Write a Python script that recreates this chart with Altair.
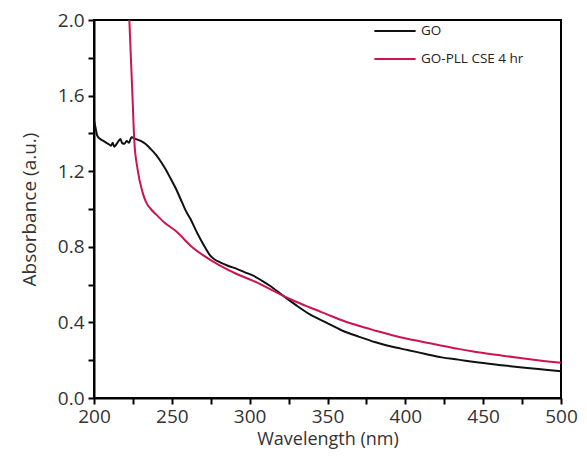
import altair as alt
import pandas as pd

go_x = [200, 201, 202, 204, 206, 208, 210, 211, 212, 213, 215, 217, 218, 219.5, 221, 222.5, 224,
        227, 230, 233, 236.5, 240, 243, 246, 249.3, 252.5, 255.6, 259, 262, 265, 268.4, 271.5,
        274.7, 278, 281, 286, 291.7, 297, 302.3, 308, 313, 321.5, 330, 338.4, 349, 359.7, 370,
        380.9, 391, 402, 413, 423.4, 434, 444.6, 460, 475, 490, 500]
go_y = [1.47, 1.43, 1.39, 1.37, 1.36, 1.35, 1.34, 1.335, 1.35, 1.33, 1.35, 1.37, 1.35, 1.345,
        1.36, 1.35, 1.38, 1.37, 1.36, 1.345, 1.317, 1.285, 1.25, 1.21, 1.16, 1.11, 1.053, 0.99,
        0.947, 0.895, 0.84, 0.795, 0.753, 0.73, 0.718, 0.70, 0.683, 0.665, 0.647, 0.62, 0.594,
        0.541, 0.49, 0.444, 0.40, 0.356, 0.325, 0.295, 0.272, 0.253, 0.233, 0.215, 0.203, 0.19,
        0.175, 0.162, 0.15, 0.142]

pll_x = [222.7, 223.7, 224.8, 225.9, 228, 231.2, 233.5, 236.5, 240, 245, 253.5, 262, 270.5, 281,
         291.7, 302.3, 315, 327, 338.4, 349, 359.7, 370, 380.9, 391, 402, 413, 423.4, 434, 444.6,
         460, 475, 490, 500]
pll_y = [2.0, 1.8, 1.58, 1.36, 1.21, 1.088, 1.035, 1.0, 0.97, 0.93, 0.877, 0.806, 0.753, 0.70,
         0.656, 0.62, 0.568, 0.52, 0.48, 0.445, 0.41, 0.382, 0.356, 0.333, 0.312, 0.294, 0.277,
         0.26, 0.245, 0.227, 0.21, 0.195, 0.186]

names = ["GO", "GO-PLL CSE 4 hr"]
colors = ["#111111", "#cc1452"]

df = pd.concat([
    pd.DataFrame({"x": go_x, "y": go_y, "s": names[0]}),
    pd.DataFrame({"x": pll_x, "y": pll_y, "s": names[1]}),
])

font = "Open Sans"
x_ticks = list(range(200, 501, 25))
y_ticks = [round(i * 0.2, 1) for i in range(11)]

tick_kw = dict(ticks=True, tickColor="#000000", tickWidth=2, tickSize=6, tickOpacity=1,
               domainColor="#000000", domainWidth=2, grid=False, labelFlush=False)

chart = alt.Chart(df).mark_line(strokeWidth=2, clip=True, interpolate="monotone").encode(
    x=alt.X("x:Q", scale=alt.Scale(domain=[200, 500], nice=False),
            axis=alt.Axis(title="Wavelength (nm)", values=x_ticks, labelPadding=3,
                          titlePadding=4, titleFontSize=18,
                          labelExpr="datum.value % 50 == 0 ? datum.label : ''", **tick_kw)),
    y=alt.Y("y:Q", scale=alt.Scale(domain=[0, 2.0], nice=False),
            axis=alt.Axis(title="Absorbance (a.u.)", values=y_ticks, format=".1f",
                          labelPadding=4, titlePadding=18,
                          labelExpr="round(datum.value*10) % 4 == 0 ? datum.label : ''",
                          **tick_kw)),
    color=alt.Color("s:N", scale=alt.Scale(domain=names, range=colors),
                    legend=alt.Legend(title=None, orient="none", legendX=279, legendY=3,
                                      symbolType="stroke", symbolSize=1700, symbolStrokeWidth=2,
                                      labelFontSize=13.5, labelFont=font, rowPadding=12,
                                      clipHeight=16,
                                      labelColor="#222", labelOffset=4)),
    order=alt.Order("x:Q"),
).properties(
    width=467, height=378,
    padding={"left": 12, "top": 3, "right": 0, "bottom": 3},
).configure_view(
    stroke="black", strokeWidth=2,
).configure_axis(
    labelFont=font, titleFont=font, labelFontSize=19, titleFontSize=19,
    labelColor="#333", titleColor="#333", titleFontWeight="normal",
)

chart.save("out.html", embed_options={"renderer": "svg", "actions": False})
